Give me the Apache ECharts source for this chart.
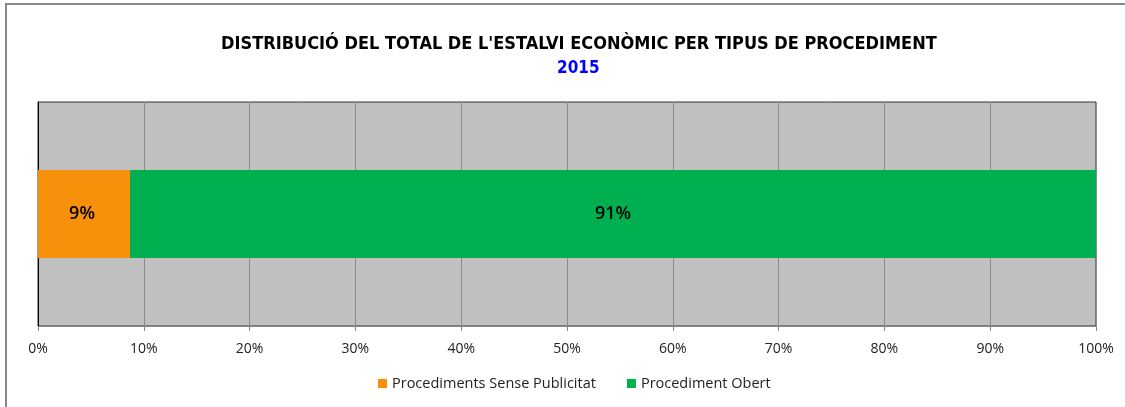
<!DOCTYPE html>
<html>
<head>
<meta charset="utf-8">
<script src="https://cdn.jsdelivr.net/npm/echarts@6/dist/echarts.min.js"></script>
<style>
html, body { margin: 0; padding: 0; background: #fff; }
#chart { width: 1125px; height: 407px; }
</style>
</head>
<body>
<div id="chart"></div>
<script>
// dades del gràfic
var categories = ['2015'];
var seriesNames = ['Procediments Sense Publicitat', 'Procediment Obert'];
var sensePublicitat = [8.7];
var obert = [91.3];
var tickLabels = ['0%', '10%', '20%', '30%', '40%', '50%', '60%', '70%', '80%', '90%', '100%'];

var myChart = echarts.init(document.getElementById('chart'));
var fontName = '"Open Sans", "DejaVu Sans", sans-serif';
var narrowFont = '"Liberation Sans Narrow", "DejaVu Sans Condensed", sans-serif';

var option = {
    backgroundColor: '#fff',
    animation: false,
    textStyle: { fontFamily: fontName },
    graphic: [{
        type: 'rect',
        shape: { x: 6, y: 4, width: 1130, height: 420 },
        style: { fill: 'none', stroke: '#888', lineWidth: 2 },
        silent: true
    }],
    // títol i subtítol (any) separats, l'àrea del gràfic d'Excel no està centrada
    title: [
        {
            text: "DISTRIBUCIÓ DEL TOTAL DE L'ESTALVI ECONÒMIC PER TIPUS DE PROCEDIMENT",
            left: 216,
            top: 30,
            textStyle: {
                fontFamily: narrowFont,
                fontSize: 18,
                fontWeight: 'bold',
                color: '#000'
            }
        },
        {
            text: '2015',
            left: 552,
            top: 55,
            textStyle: {
                fontFamily: narrowFont,
                fontSize: 17,
                fontWeight: 'bold',
                color: '#0000ff'
            }
        }
    ],
    legend: {
        bottom: 11,
        left: 373,
        itemWidth: 9,
        itemHeight: 9,
        itemGap: 31,
        icon: 'rect',
        textStyle: { fontSize: 14.5, color: '#222', fontFamily: fontName },
        data: seriesNames
    },
    grid: {
        left: 38,
        right: 29,
        top: 102,
        bottom: 81,
        show: true,
        backgroundColor: '#c0c0c0',
        borderColor: '#333',
        borderWidth: 1
    },
    xAxis: {
        type: 'value',
        min: 0,
        max: 100,
        interval: 10,
        axisLine: { show: true, lineStyle: { color: '#888' } },
        axisTick: { show: true, length: 5, lineStyle: { color: '#888' } },
        axisLabel: {
            margin: 16,
            fontSize: 14,
            color: '#222',
            fontFamily: fontName,
            formatter: function (v) { return tickLabels[Math.round(v / 10)]; }
        },
        splitLine: { show: true, lineStyle: { color: '#8c8c8c', width: 1 } }
    },
    yAxis: {
        type: 'category',
        data: categories,
        axisLine: { show: true, lineStyle: { color: '#000' } },
        axisTick: { show: false },
        axisLabel: { show: false }
    },
    series: [
        {
            name: seriesNames[0],
            type: 'bar',
            stack: 'total',
            barWidth: 88,
            itemStyle: { color: '#f7900a' },
            label: {
                show: true,
                position: 'inside',
                offset: [-2, 0],
                fontSize: 18,
                fontWeight: 600,
                color: '#000',
                fontFamily: fontName,
                formatter: function (p) { return Math.round(p.value) + '%'; }
            },
            data: sensePublicitat
        },
        {
            name: seriesNames[1],
            type: 'bar',
            stack: 'total',
            barWidth: 88,
            itemStyle: { color: '#00af50' },
            label: {
                show: true,
                position: 'inside',
                fontSize: 18,
                fontWeight: 600,
                color: '#000',
                fontFamily: fontName,
                formatter: function (p) { return Math.round(p.value) + '%'; }
            },
            data: obert
        }
    ]
};

myChart.setOption(option);
</script>
</body>
</html>
